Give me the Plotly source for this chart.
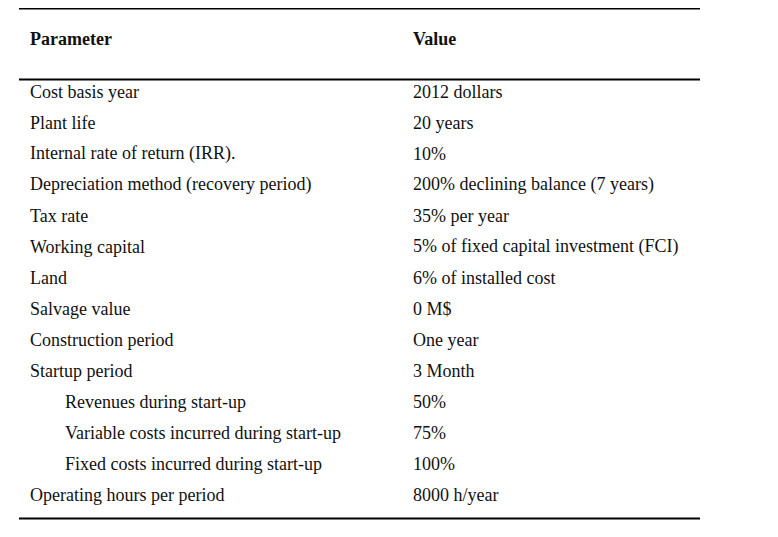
import plotly.graph_objects as go

headers = ["Parameter", "Value"]
parameters = [
    "Cost basis year",
    "Plant life",
    "Internal rate of return (IRR).",
    "Depreciation method (recovery period)",
    "Tax rate",
    "Working capital",
    "Land",
    "Salvage value",
    "Construction period",
    "Startup period",
    "Revenues during start-up",
    "Variable costs incurred during start-up",
    "Fixed costs incurred during start-up",
    "Operating hours per period",
]
values = [
    "2012 dollars",
    "20 years",
    "10%",
    "200% declining balance (7 years)",
    "35% per year",
    "5% of fixed capital investment (FCI)",
    "6% of installed cost",
    "0 M$",
    "One year",
    "3 Month",
    "50%",
    "75%",
    "100%",
    "8000 h/year",
]
indented = [False] * 10 + [True, True, True] + [False]

# layout / style constants (page has an 8px body margin, compensate)
OFF = 8
W, H = 778, 537
ROW_PX = 31.0
FIRST_ROW_PX = 91.5 - OFF
def y_of(px):
    return (px - OFF - FIRST_ROW_PX) / ROW_PX

TEXT_PAD = 2
COL_X = [30 - OFF - TEXT_PAD, 413 - OFF - TEXT_PAD]
INDENT = 35
LINE_X = [19 - OFF, 700 - OFF]
FONT = "Liberation Serif, Times New Roman, serif"
FS = 18
TXT = "#111111"

fig = go.Figure()
fig.add_trace(go.Scatter(x=[0, W], y=[y_of(OFF), y_of(H + OFF)], mode="markers",
                         marker=dict(opacity=0), hoverinfo="skip", showlegend=False))

ann = []
header_y = y_of(39)
for c, h in enumerate(headers):
    ann.append(dict(x=COL_X[c], y=header_y, text="<b>" + h + "</b>", xref="x", yref="y",
                    xanchor="left", yanchor="middle", showarrow=False,
                    font=dict(family=FONT, size=FS, color=TXT)))
for i, (p, v) in enumerate(zip(parameters, values)):
    ann.append(dict(x=COL_X[0] + (INDENT if indented[i] else 0), y=i, text=p, xref="x", yref="y",
                    xanchor="left", yanchor="middle", showarrow=False,
                    font=dict(family=FONT, size=FS, color=TXT)))
    ann.append(dict(x=COL_X[1], y=i, text=v, xref="x", yref="y",
                    xanchor="left", yanchor="middle", showarrow=False,
                    font=dict(family=FONT, size=FS, color=TXT)))

shapes = []
for py in [8.5, 79.5, 518.5]:
    yy = y_of(py)
    shapes.append(dict(type="line", xref="x", yref="y", x0=LINE_X[0], x1=LINE_X[1],
                       y0=yy, y1=yy, line=dict(color="#000000", width=2)))

fig.update_layout(
    width=W, height=H,
    margin=dict(l=0, r=0, t=0, b=0),
    paper_bgcolor="white", plot_bgcolor="white",
    xaxis=dict(range=[0, W], visible=False, fixedrange=True),
    yaxis=dict(range=[y_of(H + OFF), y_of(OFF)], visible=False, fixedrange=True),
    annotations=ann, shapes=shapes, showlegend=False,
)
fig.write_html("out.html")
